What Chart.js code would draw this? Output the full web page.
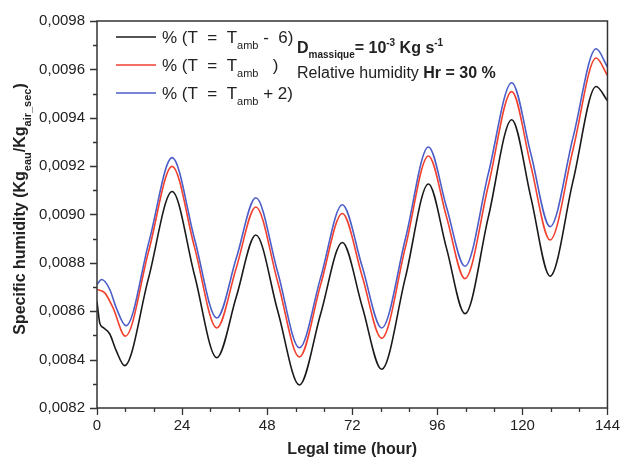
<!DOCTYPE html>
<html>
<head>
<meta charset="utf-8">
<script src="https://cdn.jsdelivr.net/npm/chart.js@4"></script>
<style>
  body { margin: 0; background: #fff; }
  canvas { display: block; }
</style>
</head>
<body>
<canvas id="humidite" width="629" height="464"></canvas>
<script>
// T = Tamb - 6
const hoursMinus6 = [0, 0.8, 1.7, 3.6, 5.4, 7.8, 14.5, 21.2, 27.5, 33.8, 39.3, 44.8, 51, 57.1, 63.1, 69.2, 74.8, 80.3, 87, 93.5, 98.6, 103.8, 110.4, 117, 122.4, 127.8, 134.3, 140.8, 144];
const humMinus6 = [0.00864, 0.00855, 0.008533, 0.008506, 0.008438, 0.008375, 0.008735, 0.009095, 0.00875, 0.008408, 0.00866, 0.008915, 0.0086, 0.008295, 0.00859, 0.008884, 0.00862, 0.00836, 0.00874, 0.009126, 0.00886, 0.00859, 0.00899, 0.009392, 0.00907, 0.008745, 0.00914, 0.009529, 0.00947];

// T = Tamb
const hoursAmb = [0, 2.2, 4.5, 8, 14.6, 21.2, 27.5, 33.8, 39.3, 44.8, 51, 57.1, 63.1, 69.2, 74.8, 80.3, 87, 93.5, 98.6, 103.8, 110.4, 117, 122.4, 127.8, 134.3, 140.8, 144];
const humAmb = [0.00869, 0.008676, 0.008615, 0.008497, 0.00885, 0.009199, 0.008865, 0.008531, 0.00878, 0.009031, 0.00872, 0.008411, 0.00871, 0.009004, 0.008745, 0.008488, 0.008865, 0.009242, 0.00899, 0.008735, 0.00912, 0.009508, 0.0092, 0.008895, 0.00927, 0.009647, 0.009575];

// T = Tamb + 2
const hoursPlus2 = [0, 1.3, 3.6, 5.4, 8.2, 14.7, 21.2, 27.5, 33.8, 39.3, 44.8, 51, 57.1, 63.1, 69.2, 74.8, 80.3, 87, 93.5, 98.6, 103.8, 110.4, 117, 122.4, 127.8, 134.3, 140.8, 144];
const humPlus2 = [0.008711, 0.008731, 0.00869, 0.008615, 0.00854, 0.00889, 0.009235, 0.0089, 0.008572, 0.00882, 0.009069, 0.00876, 0.008449, 0.00874, 0.00904, 0.008785, 0.008531, 0.0089, 0.009279, 0.00903, 0.008786, 0.00917, 0.009545, 0.00925, 0.00895, 0.00932, 0.009685, 0.00961];

const xTicks = [0, 24, 48, 72, 96, 120, 144];
const yMin = 0.0082, yMax = 0.0098;

const FONT = '"Liberation Sans", Arial, sans-serif';
const colNoir = '#1a1a1a', colRouge = '#f2402e', colBleu = '#4b5dc8';

const pts = (h, v) => h.map((x, i) => ({ x: x, y: v[i] }));

// draws text pieces with sub/superscripts, returns end x
function ecrire(ctx, x, y, parts) {
    parts.forEach(p => {
        ctx.font = (p.b ? 'bold ' : '') + p.s + 'px ' + FONT;
        let dy = 0;
        if (p.sub) dy = p.s * 0.5;
        if (p.sup) dy = -p.s * 0.7;
        ctx.fillText(p.t, x, y + dy);
        x += ctx.measureText(p.t).width;
    });
    return x;
}

const cadre = {
    id: 'cadre',
    afterDraw(chart) {
        const { ctx, chartArea: a, scales } = chart;
        const xs = scales.x, ys = scales.y;
        ctx.save();
        ctx.strokeStyle = '#333';
        ctx.lineWidth = 1.5;
        ctx.strokeRect(a.left, a.top, a.right - a.left, a.bottom - a.top);

        ctx.lineWidth = 1.3;
        ctx.beginPath();
        for (let h = 0; h <= 144; h += 8) {
            const px = Math.round(xs.getPixelForValue(h)) + 0.5;
            const len = h % 24 === 0 ? 7 : 4;
            ctx.moveTo(px, a.bottom);
            ctx.lineTo(px, a.bottom + len);
        }
        for (let k = 0; k <= 16; k++) {
            const py = Math.round(ys.getPixelForValue(yMin + k * 0.0001)) + 0.5;
            const len = k % 2 === 0 ? 7 : 4;
            ctx.moveTo(a.left, py);
            ctx.lineTo(a.left - len, py);
        }
        ctx.stroke();

        ctx.fillStyle = '#222';
        ctx.textBaseline = 'alphabetic';
        ctx.textAlign = 'left';

        // legend
        const lignes = [
            { c: colNoir, y: 37, fin: ' -  6)' },
            { c: colRouge, y: 65, fin: '   )' },
            { c: colBleu, y: 93, fin: ' + 2)' }
        ];
        lignes.forEach(l => {
            ctx.strokeStyle = l.c;
            ctx.lineWidth = 1.5;
            ctx.beginPath();
            ctx.moveTo(116, l.y);
            ctx.lineTo(156, l.y);
            ctx.stroke();
            ctx.fillStyle = '#222';
            ecrire(ctx, 162, l.y + 6, [
                { t: '% (T  =  T', s: 17 },
                { t: 'amb', s: 11, sub: true },
                { t: l.fin, s: 17 }
            ]);
        });

        // annotations
        ecrire(ctx, 297, 53, [
            { t: 'D', s: 16, b: true },
            { t: 'massique', s: 10, b: true, sub: true },
            { t: '= 10', s: 16, b: true },
            { t: '-3', s: 10, b: true, sup: true },
            { t: ' Kg s', s: 16, b: true },
            { t: '-1', s: 10, b: true, sup: true }
        ]);
        ecrire(ctx, 297, 78, [
            { t: 'Relative humidity ', s: 16 },
            { t: 'Hr = 30 %', s: 16, b: true }
        ]);

        // axis titles
        ctx.font = 'bold 16px ' + FONT;
        ctx.textAlign = 'center';
        ctx.fillText('Legal time (hour)', (a.left + a.right) / 2, 454);

        ctx.textAlign = 'left';
        const titreY = [
            { t: 'Specific humidity (Kg', s: 16, b: true },
            { t: 'eau', s: 11, b: true, sub: true },
            { t: '/Kg', s: 16, b: true },
            { t: 'air_sec', s: 11, b: true, sub: true },
            { t: ')', s: 16, b: true }
        ];
        let w = 0;
        titreY.forEach(p => { ctx.font = 'bold ' + p.s + 'px ' + FONT; w += ctx.measureText(p.t).width; });
        ctx.translate(25, 209);
        ctx.rotate(-Math.PI / 2);
        ecrire(ctx, -w / 2, 0, titreY);
        ctx.restore();
    }
};

const ctx = document.getElementById('humidite').getContext('2d');
new Chart(ctx, {
    type: 'line',
    data: {
        datasets: [
            { label: '% (T = Tamb - 6)', data: pts(hoursMinus6, humMinus6), borderColor: colNoir },
            { label: '% (T = Tamb )', data: pts(hoursAmb, humAmb), borderColor: colRouge },
            { label: '% (T = Tamb + 2)', data: pts(hoursPlus2, humPlus2), borderColor: colBleu }
        ]
    },
    options: {
        responsive: false,
        animation: false,
        devicePixelRatio: 1,
        layout: { padding: { top: 17, right: 8, left: 0, bottom: 0 } },
        datasets: { line: { borderWidth: 1.6, pointRadius: 0, cubicInterpolationMode: 'monotone', fill: false } },
        plugins: { legend: { display: false }, tooltip: { enabled: false } },
        scales: {
            x: {
                type: 'linear',
                min: 0,
                max: 144,
                afterBuildTicks: s => { s.ticks = xTicks.map(v => ({ value: v })); },
                afterFit: s => { s.height = 56; },
                grid: { display: false, drawTicks: false },
                border: { display: false },
                ticks: { padding: 9, color: '#222', font: { family: FONT, size: 15 }, maxRotation: 0 }
            },
            y: {
                min: yMin,
                max: yMax,
                afterFit: s => { s.width = 97; },
                grid: { display: false, drawTicks: false },
                border: { display: false },
                ticks: {
                    stepSize: 0.0002,
                    padding: 12,
                    color: '#222',
                    font: { family: FONT, size: 15 },
                    callback: v => (Math.round(v * 10000) / 10000).toFixed(4).replace('.', ',')
                }
            }
        }
    },
    plugins: [cadre]
});
</script>
</body>
</html>
